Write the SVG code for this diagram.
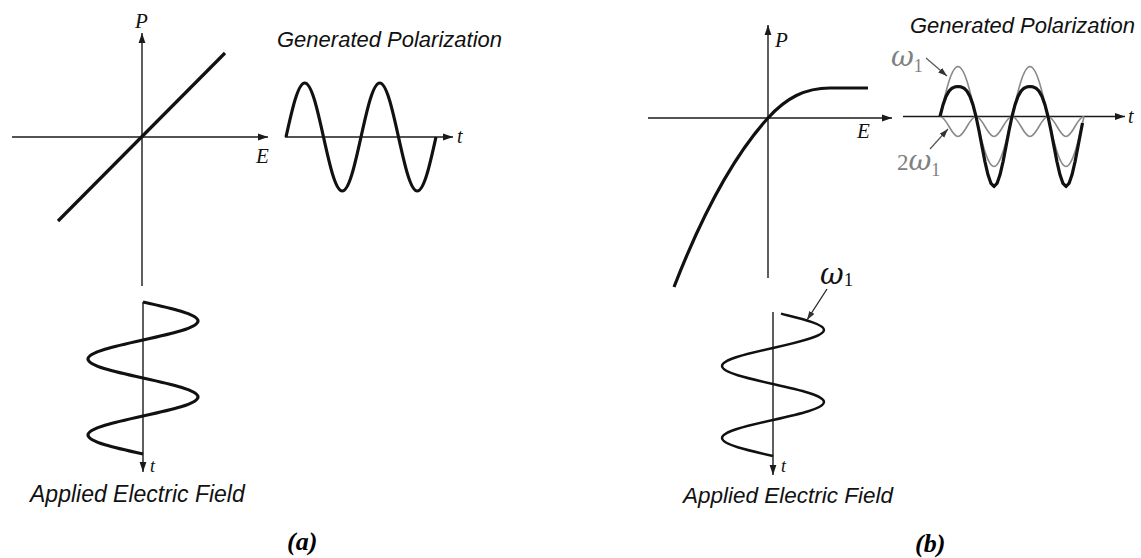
<svg xmlns="http://www.w3.org/2000/svg" width="1141" height="558" viewBox="0 0 1141 558">
<defs>
<marker id="ah" markerUnits="userSpaceOnUse" markerWidth="10" markerHeight="8" refX="10" refY="4" orient="auto">
<path d="M0,0.6 L10,4 L0,7.4 z" fill="#1a1a1a"/>
</marker>
<marker id="ahg" markerUnits="userSpaceOnUse" markerWidth="9" markerHeight="7" refX="9" refY="3.5" orient="auto">
<path d="M0,0.5 L9,3.5 L0,6.5 z" fill="#333"/>
</marker>
<style>
.axis{stroke:#1a1a1a;stroke-width:1.4;fill:none}
.thick{stroke:#111;stroke-width:3.2;fill:none;stroke-linejoin:round}
.mid{stroke:#111;stroke-width:2.4;fill:none}
.thin{stroke:#8a8a8a;stroke-width:1.6;fill:none}
.lab{font-family:"Liberation Serif","Times New Roman",serif;font-style:italic;fill:#111}
.num{font-family:"Liberation Serif","Times New Roman",serif;font-style:normal}
.greek{font-family:"DejaVu Serif","Liberation Serif",serif;font-style:italic}
.title{font-family:"Liberation Sans",Arial,sans-serif;font-style:italic;fill:#111}
.cap{font-family:"Liberation Serif","Times New Roman",serif;font-style:italic;font-weight:bold;font-size:26px;fill:#000}
.gray{fill:#808080}
</style>
</defs>
<rect width="1141" height="558" fill="#fff"/>

<g id="panel-a">
<g id="a-pe-graph">
<line class="axis" x1="142" y1="286" x2="142" y2="33" marker-end="url(#ah)"/>
<line class="axis" x1="12" y1="137" x2="268" y2="137" marker-end="url(#ah)"/>
<line class="thick" x1="58" y1="221" x2="225" y2="53"/>
<text class="lab" x="135" y="28" font-size="21">P</text>
<text class="lab" x="256" y="163" font-size="21">E</text>
</g>
<g id="a-polarization">
<text class="title" x="277" y="47" font-size="22">Generated Polarization</text>
<line class="axis" x1="285" y1="137" x2="453" y2="137" marker-end="url(#ah)"/>
<path class="thick" d="M286,137 C292.11,109.34 297.96,83 304.75,83 S317.39,109.34 323.5,137 S335.46,191 342.25,191 S354.89,164.66 361,137 S372.96,83 379.75,83 S392.39,109.34 398.5,137 S410.46,191 417.25,191 S429.89,164.66 436,137"/>
<text class="lab" x="457" y="143" font-size="20">t</text>
</g>
<g id="a-field">
<line class="axis" x1="143" y1="302" x2="143" y2="472" marker-end="url(#ah)"/>
<path class="thick" d="M143,302 C171.18,308.2 198,314.12 198,321 S171.18,333.8 143,340 S88,352.12 88,359 S114.82,371.8 143,378 S198,390.12 198,397 S171.18,409.8 143,416 S88,428.12 88,435 S114.82,447.8 143,454"/>
<text class="lab" x="150" y="472" font-size="18">t</text>
<text class="title" x="30" y="502" font-size="23">Applied Electric Field</text>
</g>
<text class="cap" x="287" y="550">(a)</text>
</g>

<g id="panel-b">
<g id="b-pe-graph">
<line class="axis" x1="768" y1="278" x2="768" y2="25" marker-end="url(#ah)"/>
<line class="axis" x1="648" y1="118" x2="892" y2="118" marker-end="url(#ah)"/>
<path class="thick" d="M674,287 C700,220 730,160 768,118 C786,98 805,88 830,88 L868,88"/>
<text class="lab" x="775" y="47" font-size="21">P</text>
<text class="lab" x="857" y="138" font-size="21">E</text>
</g>
<g id="b-polarization">
<text class="title" x="910" y="33" font-size="22">Generated Polarization</text>
<line class="axis" x1="903" y1="116.5" x2="1125" y2="116.5" marker-end="url(#ah)"/>
<path class="thin" d="M940,116.5 C945.87,90.9 951.49,66.5 958,66.5 S970.13,90.9 976,116.5 S987.49,166.5 994,166.5 S1006.13,142.1 1012,116.5 S1023.49,66.5 1030,66.5 S1042.13,90.9 1048,116.5 S1059.49,166.5 1066,166.5 S1078.13,142.1 1084,116.5"/>
<path class="thin" d="M940,116.5 C943.26,116.5 946.07,121.38 949,126.5 S954.74,136.5 958,136.5 S964.07,131.62 967,126.5 S972.74,116.5 976,116.5 S982.07,121.38 985,126.5 S990.74,136.5 994,136.5 S1000.07,131.62 1003,126.5 S1008.74,116.5 1012,116.5 S1018.07,121.38 1021,126.5 S1026.74,136.5 1030,136.5 S1036.07,131.62 1039,126.5 S1044.74,116.5 1048,116.5 S1054.07,121.38 1057,126.5 S1062.74,136.5 1066,136.5 S1072.07,131.62 1075,126.5 S1080.74,116.5 1084,116.5"/>
<polyline class="thick" points="940,116.5 943,104.9 946,96.5 949,91.14 952,88.2 955,86.86 958,86.5 961,86.86 964,88.2 967,91.14 970,96.5 973,104.9 976,116.5 979,130.78 982,146.5 985,161.86 988,174.8 991,183.46 994,186.5 997,183.46 1000,174.8 1003,161.86 1006,146.5 1009,130.78 1012,116.5 1015,104.9 1018,96.5 1021,91.14 1024,88.2 1027,86.86 1030,86.5 1033,86.86 1036,88.2 1039,91.14 1042,96.5 1045,104.9 1048,116.5 1051,130.78 1054,146.5 1057,161.86 1060,174.8 1063,183.46 1066,186.5 1069,183.46 1072,174.8 1075,161.86 1078,146.5 1081,130.78 1082.5,123"/>
<text class="lab" x="1128" y="123" font-size="20">t</text>
<text class="greek gray" x="891" y="66" font-size="28">ω<tspan class="num" font-size="18" dy="6">1</tspan></text>
<line stroke="#555" stroke-width="1.2" x1="926" y1="58" x2="947" y2="76" marker-end="url(#ahg)"/>
<text class="num gray" x="897" y="170" font-size="23">2<tspan class="greek" font-size="28">ω</tspan><tspan font-size="18" dy="6">1</tspan></text>
<line stroke="#555" stroke-width="1.2" x1="930" y1="149" x2="948" y2="129" marker-end="url(#ahg)"/>
</g>
<g id="b-field">
<line class="axis" x1="773" y1="312" x2="773" y2="475" marker-end="url(#ah)"/>
<path class="mid" d="M781,313.7 C802,319 824,323.8 824,330 S799.13,342.13 773,348 S722,359.49 722,366 S746.87,378.13 773,384 S824,395.49 824,402 S799.13,414.13 773,420 S722,431.49 722,438 S746.87,450.13 773,456"/>
<text class="lab" x="781" y="472" font-size="18">t</text>
<text class="greek" x="820" y="284" font-size="29" fill="#111">ω<tspan class="num" font-size="19" dy="2">1</tspan></text>
<line stroke="#222" stroke-width="1.3" x1="827" y1="289" x2="807" y2="320" marker-end="url(#ahg)"/>
<text class="title" x="683" y="503" font-size="22.5">Applied Electric Field</text>
</g>
<text class="cap" x="915" y="552">(b)</text>
</g>
</svg>
